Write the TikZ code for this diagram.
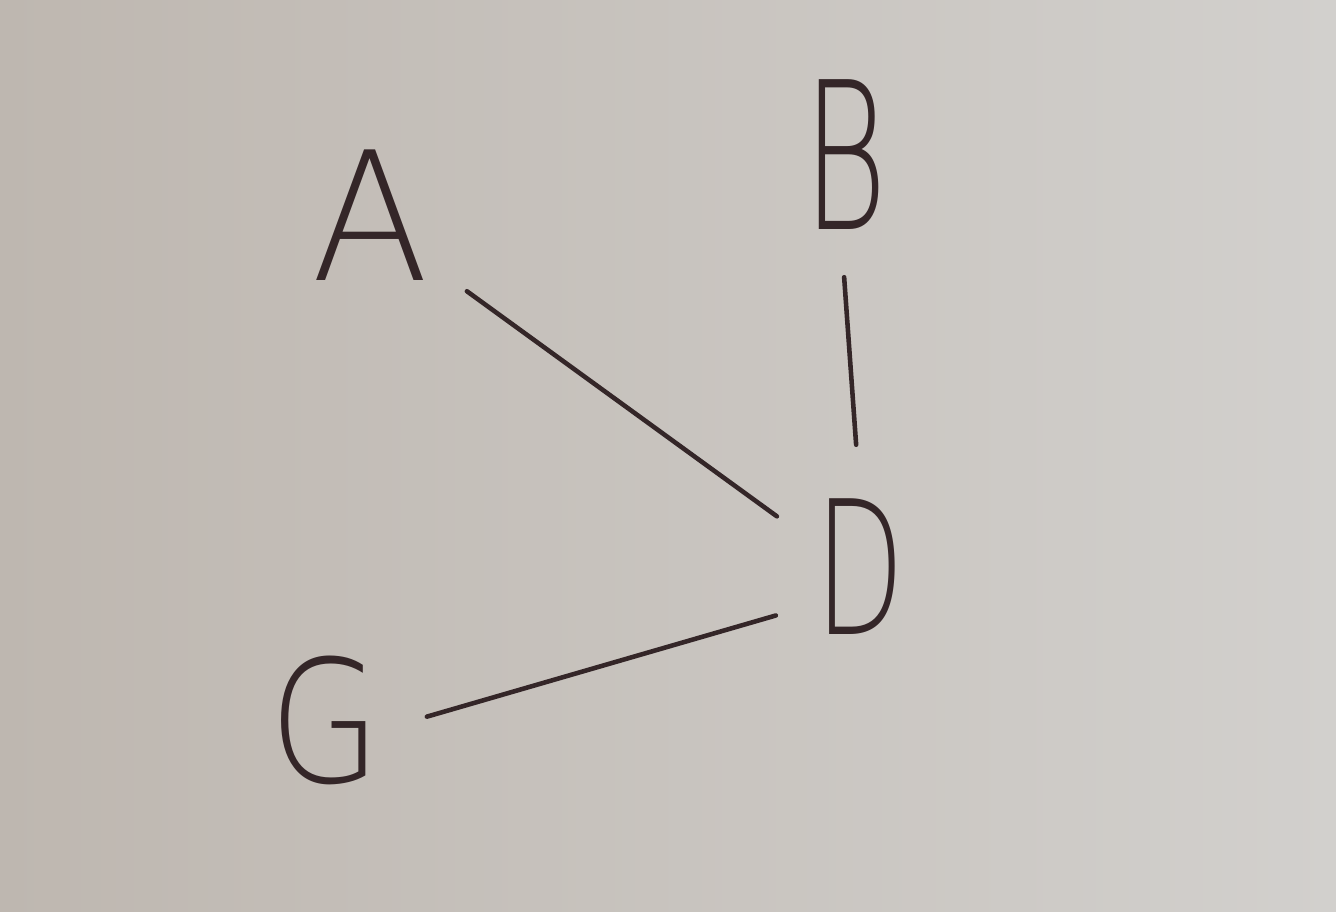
\documentclass[tikz,border=0pt]{standalone}
\usepackage{fontspec}
\newfontfamily\handfont{DejaVu Sans ExtraLight}
\definecolor{ink}{RGB}{52,38,40}
\definecolor{paperL}{RGB}{190,183,176}
\definecolor{paperR}{RGB}{210,208,205}
\tikzset{
  letter/.style={circle, minimum size=3.6cm, inner sep=0pt, text=ink,
    font=\handfont\fontsize{100}{100}\selectfont},
  link/.style={draw=ink, line width=2.6pt, line cap=round}
}
\begin{document}
\begin{tikzpicture}
\shade[left color=paperL, right color=paperR, shading angle=90] (0,0) rectangle (26.72,18.24);
\useasboundingbox (0,0) rectangle (26.72,18.24);
\node[letter] (A) at (7.4,13.94) {\scalebox{0.98}[1.02]{A}};
\node[letter] (B) at (16.9,15.14) {\scalebox{0.73}[1.17]{B}};
\node[letter] (D) at (17.2,6.9) {\scalebox{0.66}[1.06]{D}};
\node[letter] (G) at (6.5,3.84) {\scalebox{0.82}[0.97]{G}};
\draw[link, shorten <=0.66cm, shorten >=0.14cm] (A.-39) -- (D.149);
\draw[link, shorten <=0.64cm, shorten >=0.64cm] (B.-92) -- (D.91);
\draw[link, shorten <=0.24cm, shorten >=0.14cm] (G.0) -- (D.211);
\end{tikzpicture}
\end{document}
